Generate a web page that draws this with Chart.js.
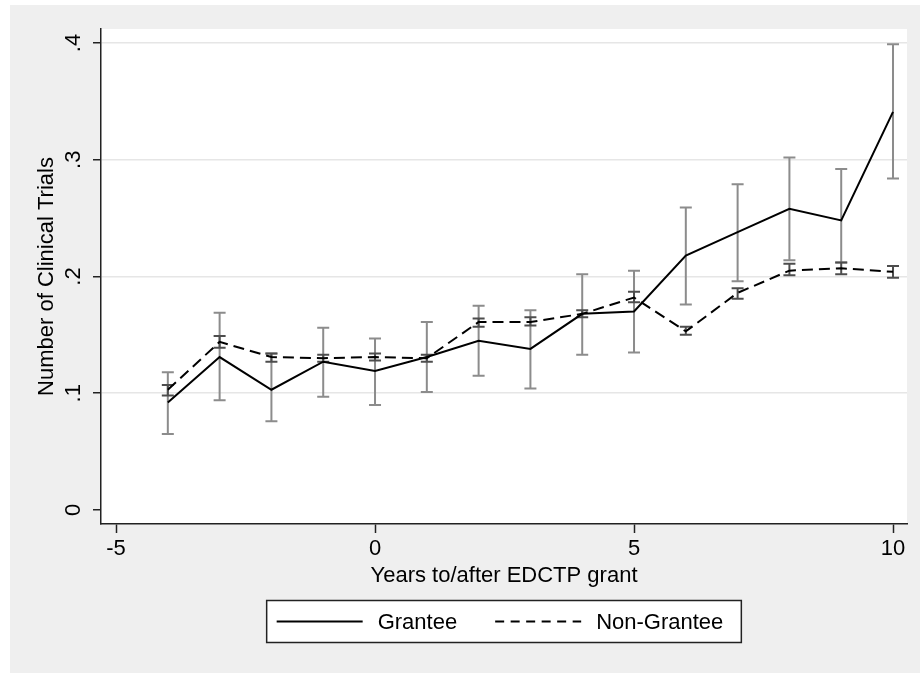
<!DOCTYPE html>
<html>
<head>
<meta charset="utf-8">
<title>Clinical trials</title>
<script src="https://cdn.jsdelivr.net/npm/chart.js@4.4.0/dist/chart.umd.min.js"></script>
<style>
    html, body { margin: 0; padding: 0; background: #fff; }
    #wrap { width: 920px; height: 673px; }
</style>
</head>
<body>
<div id="wrap"><canvas id="trialsChart" width="920" height="673"></canvas></div>
<script>
const years = [-4, -3, -2, -1, 0, 1, 2, 3, 4, 5, 6, 7, 8, 9, 10];

const grantee = [0.092, 0.131, 0.103, 0.127, 0.119, 0.131, 0.145, 0.138, 0.168, 0.170, 0.218, 0.238, 0.258, 0.248, 0.341];
const granteeLow = [0.065, 0.094, 0.076, 0.097, 0.090, 0.101, 0.115, 0.104, 0.133, 0.135, 0.176, 0.196, 0.214, 0.212, 0.284];
const granteeHigh = [0.118, 0.169, 0.134, 0.156, 0.147, 0.161, 0.175, 0.171, 0.202, 0.205, 0.259, 0.279, 0.302, 0.292, 0.399];

const nonGrantee = [0.103, 0.144, 0.131, 0.130, 0.131, 0.130, 0.161, 0.161, 0.168, 0.182, 0.153, 0.186, 0.205, 0.207, 0.204];
const nonGranteeLow = [0.098, 0.139, 0.127, 0.127, 0.128, 0.127, 0.157, 0.158, 0.165, 0.178, 0.150, 0.181, 0.201, 0.202, 0.199];
const nonGranteeHigh = [0.107, 0.149, 0.134, 0.133, 0.134, 0.133, 0.164, 0.165, 0.171, 0.187, 0.157, 0.190, 0.211, 0.212, 0.209];

const xTicks = [-5, 0, 5, 10];
const yTicks = [0, 0.1, 0.2, 0.3, 0.4];
const yTickLabels = ['0', '.1', '.2', '.3', '.4'];

const FONT = '"Liberation Sans", Arial, Helvetica, sans-serif';
const ctx = document.getElementById('trialsChart');

function toPoints(values) {
    return years.map((yr, i) => ({ x: yr, y: values[i] }));
}

//__________________________________________________________

// gray page + white plot region, like Stata's s2color-ish scheme
const background = {
    id: 'background',
    beforeDraw(chart) {
        const { ctx, chartArea } = chart;
        ctx.save();
        ctx.fillStyle = '#fff';
        ctx.fillRect(0, 0, chart.width, chart.height);
        ctx.fillStyle = '#efefef';
        ctx.fillRect(10, 5, chart.width - 10, chart.height - 5);
        ctx.fillStyle = '#fff';
        ctx.fillRect(chartArea.left, chartArea.top, chartArea.right - chartArea.left, chartArea.bottom - chartArea.top);
        ctx.restore();
    }
};

const errorBars = {
    id: 'errorBars',
    beforeDatasetsDraw(chart) {
        const { ctx, scales: { x, y } } = chart;
        const cap = 6;
        ctx.save();
        chart.data.datasets.forEach(ds => {
            ctx.strokeStyle = ds.errorColor;
            ctx.lineWidth = 2;
            ds.data.forEach((pt, i) => {
                const px = x.getPixelForValue(pt.x);
                const top = y.getPixelForValue(ds.high[i]);
                const bot = y.getPixelForValue(ds.low[i]);
                ctx.beginPath();
                ctx.moveTo(px, top);
                ctx.lineTo(px, bot);
                ctx.moveTo(px - cap, top);
                ctx.lineTo(px + cap, top);
                ctx.moveTo(px - cap, bot);
                ctx.lineTo(px + cap, bot);
                ctx.stroke();
            });
        });
        ctx.restore();
    }
};

// boxed legend under the x title
const legendBox = {
    id: 'legendBox',
    afterDraw(chart) {
        const { ctx, chartArea } = chart;
        const lineW = 86, textGap = 15, itemGap = 38, padL = 10, padR = 18;
        const top = 600.5, h = 42;
        ctx.save();
        ctx.font = '22px ' + FONT;
        const items = chart.data.datasets.map(ds => ({
            label: ds.label,
            dash: ds.legendDash,
            w: ctx.measureText(ds.label).width
        }));
        let total = padL + padR;
        items.forEach((it, i) => { total += lineW + textGap + it.w + (i ? itemGap : 0); });
        const left = (chartArea.left + chartArea.right) / 2 - total / 2;

        ctx.fillStyle = '#fff';
        ctx.fillRect(left, top, total, h);
        ctx.strokeStyle = '#222';
        ctx.lineWidth = 1.5;
        ctx.strokeRect(left, top, total, h);

        const cy = top + h / 2;
        let cx = left + padL;
        items.forEach(it => {
            ctx.beginPath();
            ctx.setLineDash(it.dash);
            ctx.strokeStyle = '#000';
            ctx.lineWidth = 2;
            ctx.moveTo(cx, cy);
            ctx.lineTo(cx + lineW, cy);
            ctx.stroke();
            ctx.setLineDash([]);
            cx += lineW + textGap;
            ctx.fillStyle = '#000';
            ctx.textBaseline = 'middle';
            ctx.textAlign = 'left';
            ctx.fillText(it.label, cx, cy + 1);
            cx += it.w + itemGap;
        });
        ctx.restore();
    }
};

//__________________________________________________________

const data = {
    datasets: [{
        label: 'Grantee',
        data: toPoints(grantee),
        low: granteeLow,
        high: granteeHigh,
        errorColor: '#8c8c8c',
        legendDash: [],
        borderColor: '#000',
        borderWidth: 2,
        pointRadius: 0,
        tension: 0
    }, {
        label: 'Non-Grantee',
        data: toPoints(nonGrantee),
        low: nonGranteeLow,
        high: nonGranteeHigh,
        errorColor: '#4d4d4d',
        legendDash: [9, 6.5],
        borderColor: '#000',
        borderWidth: 2,
        borderDash: [11, 6],
        pointRadius: 0,
        tension: 0
    }]
};

const config = {
    type: 'line',
    data: data,
    plugins: [background, errorBars, legendBox],
    options: {
        responsive: false,
        animation: false,
        devicePixelRatio: 1,
        layout: { padding: { left: 30, right: 13, top: 29, bottom: 79 } },
        plugins: {
            legend: { display: false },
            tooltip: { enabled: false }
        },
        scales: {
            x: {
                type: 'linear',
                min: -5.29,
                max: 10.27,
                afterBuildTicks: s => { s.ticks = xTicks.map(v => ({ value: v })); },
                afterFit: s => { s.height = 70; },
                ticks: {
                    color: '#000',
                    padding: 3,
                    maxRotation: 0,
                    font: { family: FONT, size: 22 }
                },
                grid: {
                    drawOnChartArea: false,
                    tickLength: 9,
                    tickWidth: 1.5,
                    tickColor: '#222'
                },
                border: { color: '#222', width: 1.5 },
                title: {
                    display: true,
                    text: 'Years to/after EDCTP grant',
                    color: '#000',
                    padding: { top: 0, bottom: 5.3 },
                    font: { family: FONT, size: 22 }
                }
            },
            y: {
                type: 'linear',
                min: -0.012,
                max: 0.412,
                afterBuildTicks: s => { s.ticks = yTicks.map(v => ({ value: v })); },
                afterFit: s => { s.width = 71; },
                ticks: {
                    color: '#000',
                    padding: 10,
                    minRotation: 90,
                    maxRotation: 90,
                    crossAlign: 'center',
                    font: { family: FONT, size: 22 },
                    callback: (value) => yTickLabels[yTicks.indexOf(value)]
                },
                grid: {
                    color: c => (c.tick && c.tick.value === 0) ? 'rgba(0,0,0,0)' : '#e6e6e6',
                    lineWidth: 1.5,
                    tickLength: 8,
                    tickWidth: 1.5,
                    tickColor: '#222'
                },
                border: { color: '#222', width: 1.5 },
                title: {
                    display: true,
                    text: 'Number of Clinical Trials',
                    color: '#000',
                    padding: { top: 4, bottom: 0 },
                    font: { family: FONT, size: 22 }
                }
            }
        }
    }
};

const trialsChart = new Chart(ctx, config);
</script>
</body>
</html>
